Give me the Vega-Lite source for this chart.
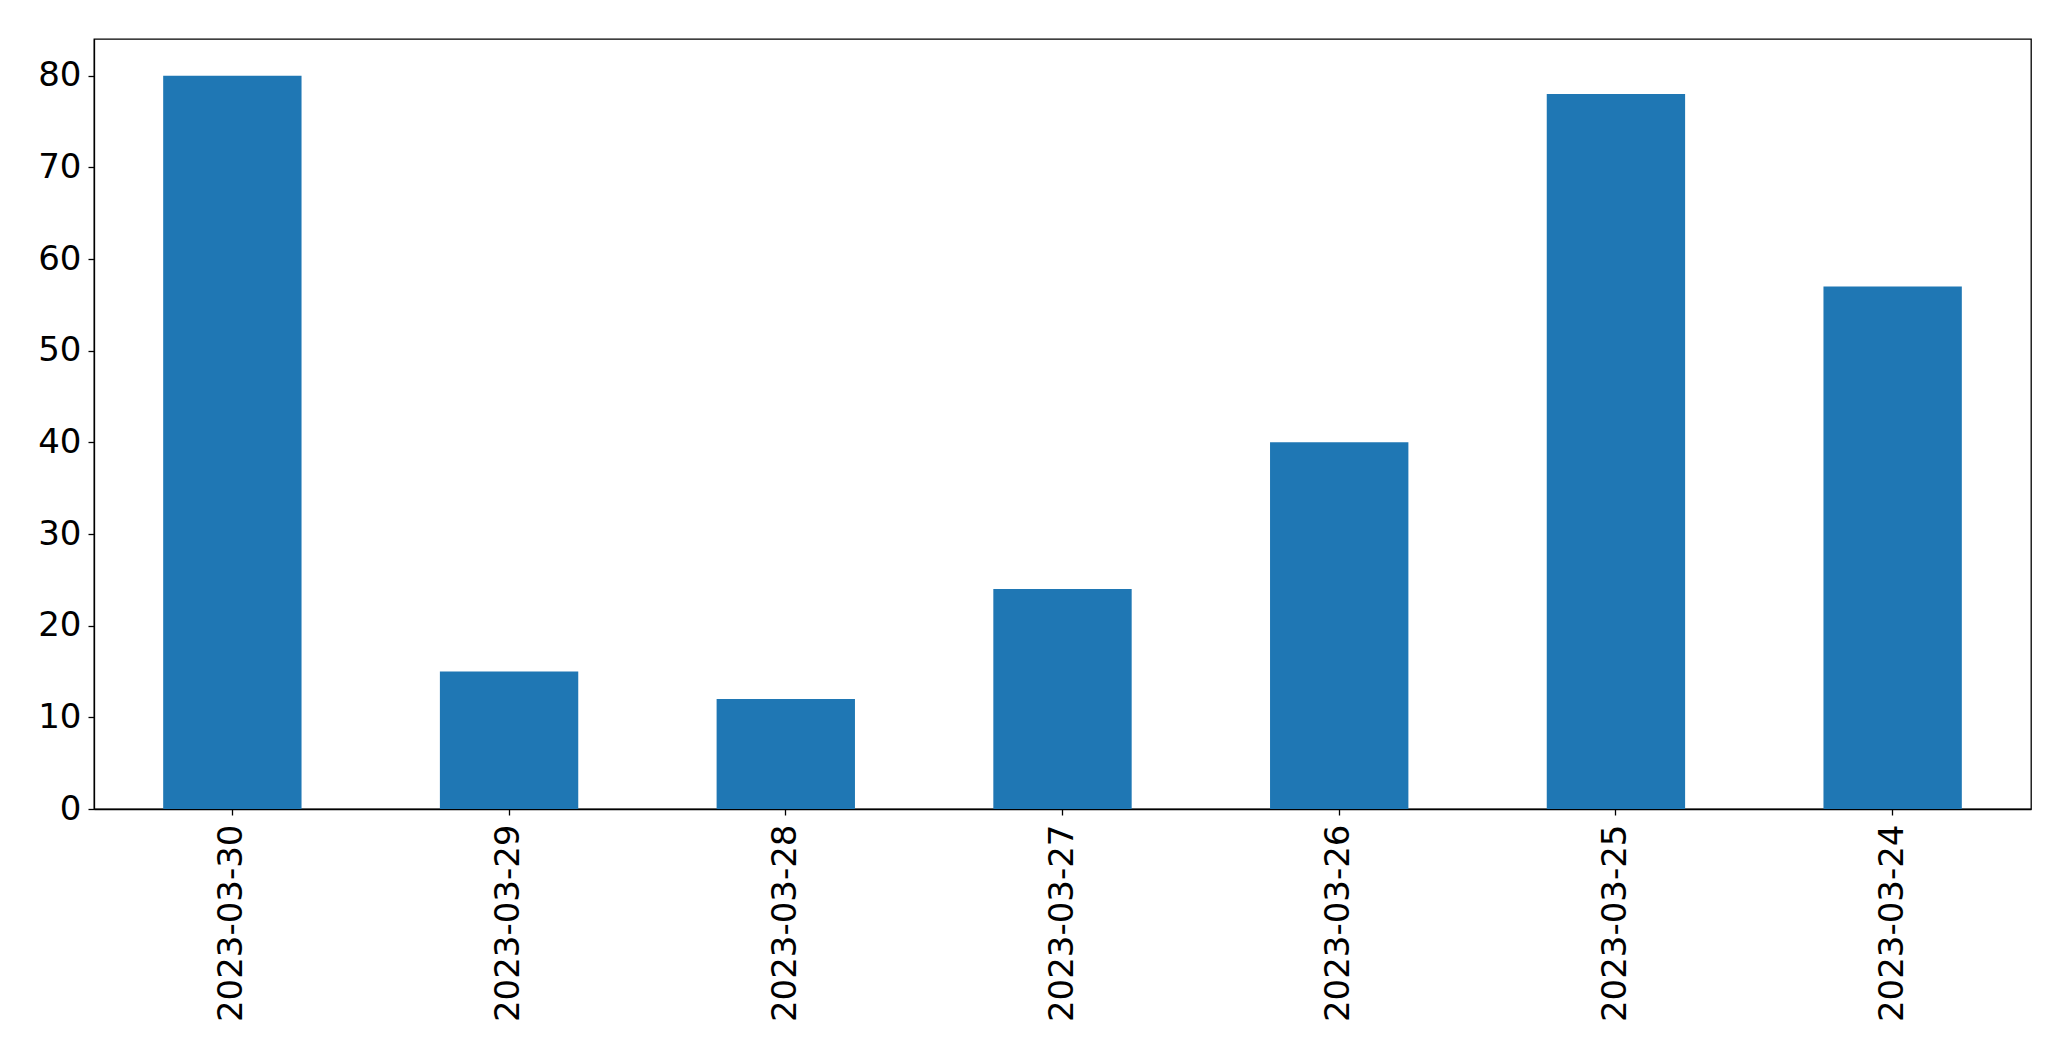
{
  "$schema": "https://vega.github.io/schema/vega-lite/v6.json",
  "autosize": {"type": "none"},
  "width": 1937,
  "height": 770,
  "padding": {"left": 94, "top": 39, "right": 40, "bottom": 252},
  "background": "white",
  "data": {
    "values": [
      {"date": "2023-03-30", "value": 80},
      {"date": "2023-03-29", "value": 15},
      {"date": "2023-03-28", "value": 12},
      {"date": "2023-03-27", "value": 24},
      {"date": "2023-03-26", "value": 40},
      {"date": "2023-03-25", "value": 78},
      {"date": "2023-03-24", "value": 57}
    ]
  },
  "mark": {"type": "bar", "color": "#1f77b4"},
  "encoding": {
    "x": {
      "field": "date",
      "type": "nominal",
      "sort": null,
      "scale": {"paddingInner": 0.5, "paddingOuter": 0.25},
      "axis": {
        "title": null,
        "labelAngle": -90,
        "labelFont": "DejaVu Sans",
        "labelFontSize": 34,
        "labelLimit": 0,
        "labelColor": "black",
        "labelPadding": 9,
        "tickSize": 6,
        "tickColor": "black",
        "tickWidth": 1.3,
        "domainColor": "black",
        "domainWidth": 1.3
      }
    },
    "y": {
      "field": "value",
      "type": "quantitative",
      "scale": {"domain": [0, 84], "nice": false},
      "axis": {
        "title": null,
        "values": [0, 10, 20, 30, 40, 50, 60, 70, 80],
        "grid": false,
        "labelFont": "DejaVu Sans",
        "labelFontSize": 34,
        "labelColor": "black",
        "labelPadding": 7,
        "tickSize": 6,
        "tickColor": "black",
        "tickWidth": 1.3,
        "domainColor": "black",
        "domainWidth": 1.3
      }
    }
  },
  "config": {
    "view": {"stroke": "black", "strokeWidth": 1.3}
  }
}
